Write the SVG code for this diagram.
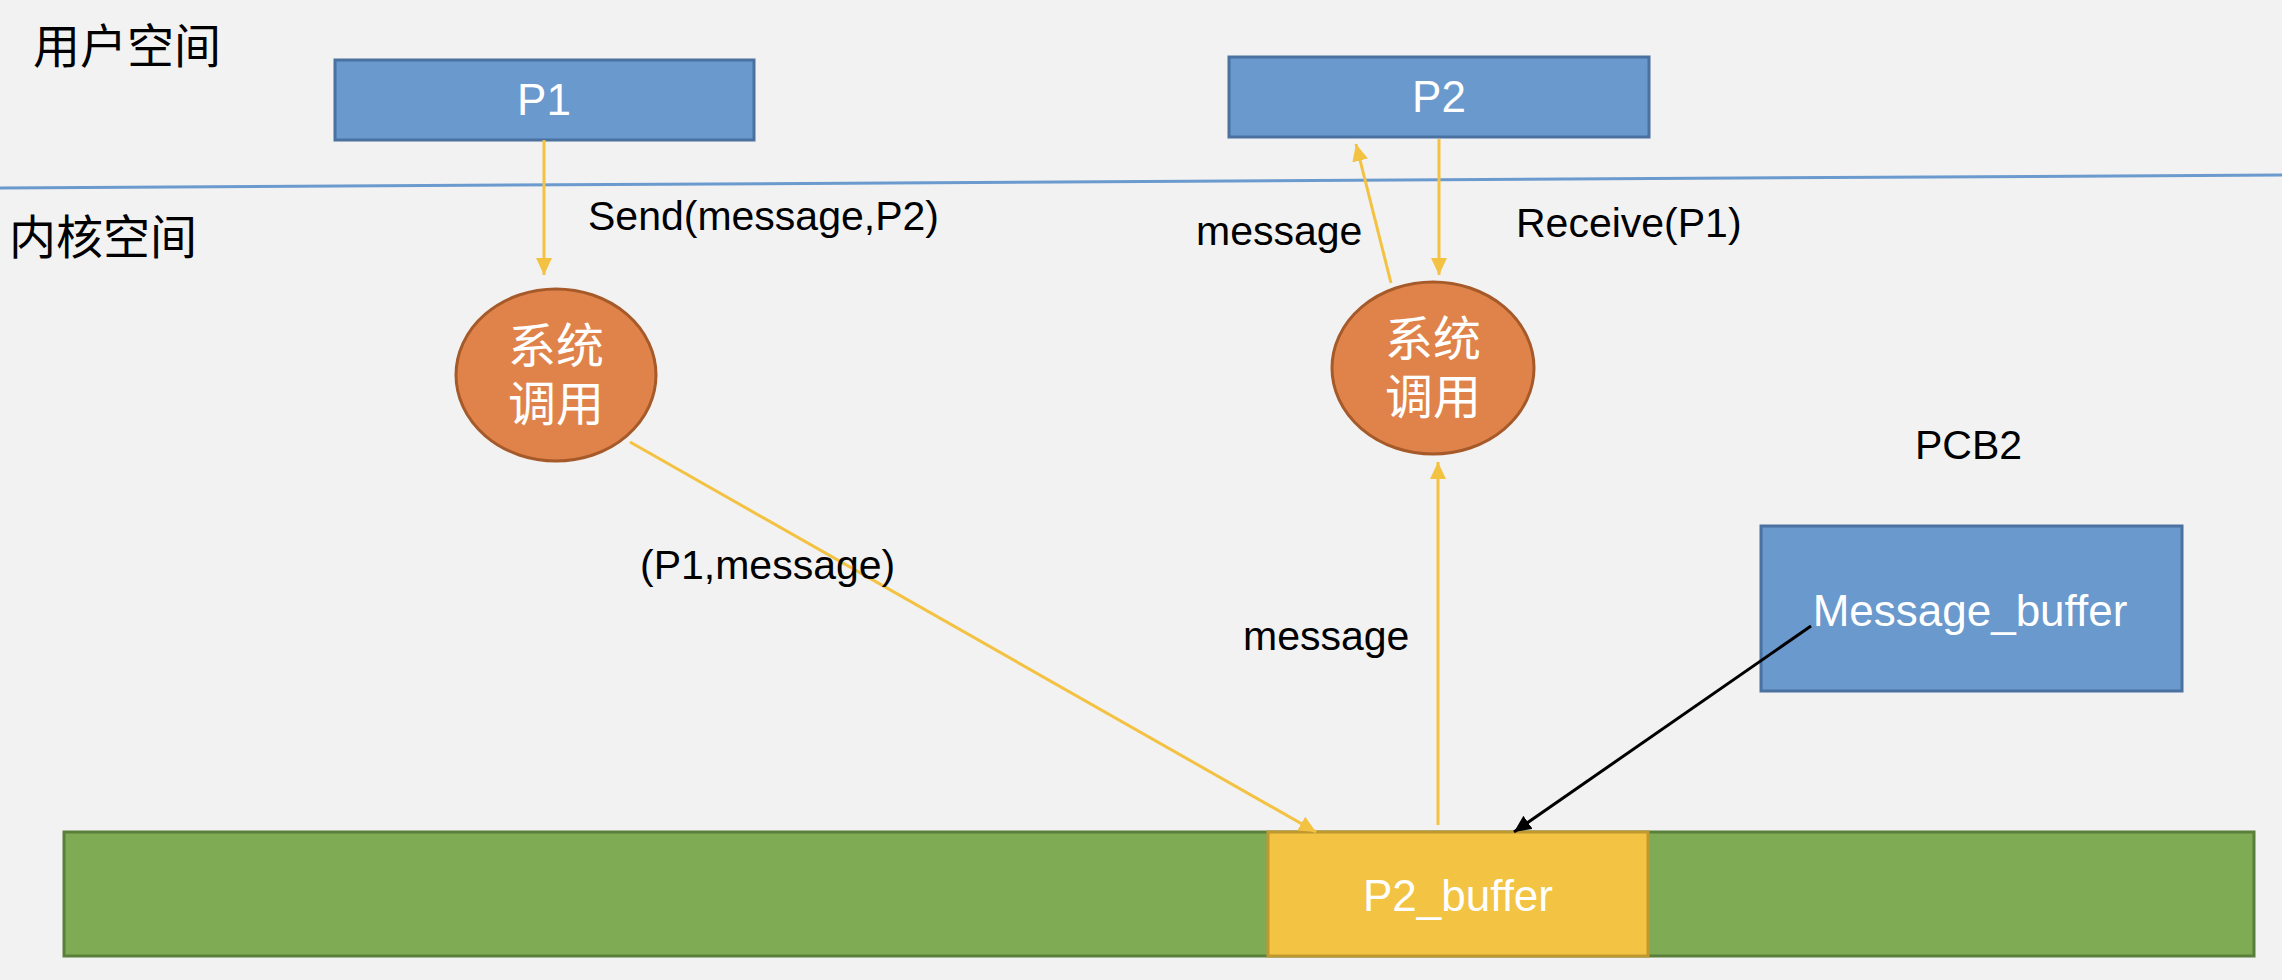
<svg xmlns="http://www.w3.org/2000/svg" width="2282" height="980" viewBox="0 0 2282 980">
<style>
.lbl{font-family:"Liberation Sans","Noto Sans",sans-serif;font-size:41px;fill:#000}
.wt{font-family:"Liberation Sans","Noto Sans",sans-serif;font-size:44px;fill:#fff;text-anchor:middle}
.cjk{font-family:"Liberation Sans","Noto Sans CJK SC",sans-serif;font-size:47px;fill:#000}
.cjkw{font-family:"Liberation Sans","Noto Sans CJK SC",sans-serif;font-size:48px;fill:#fff;text-anchor:middle}
.blue{fill:#6999CD;stroke:#4A71A0;stroke-width:3}
.orange{fill:#E0834A;stroke:#A65A2A;stroke-width:3}
.ya{stroke:#F4C242;stroke-width:3;fill:none}
.ba{stroke:#000;stroke-width:3;fill:none}
</style>
<defs>
<marker id="ahY" markerUnits="userSpaceOnUse" markerWidth="18" markerHeight="16" refX="17" refY="8" orient="auto"><path d="M0,0 L17,8 L0,16 Z" fill="#F4C242"/></marker>
<marker id="ahB" markerUnits="userSpaceOnUse" markerWidth="18" markerHeight="16" refX="17" refY="8" orient="auto"><path d="M0,0 L17,8 L0,16 Z" fill="#000"/></marker>
</defs>
<rect x="0" y="0" width="2282" height="980" fill="#F2F2F2"/>
<line x1="0" y1="188" x2="2282" y2="175" stroke="#6A9ACE" stroke-width="3"/>
<text class="cjk" x="33" y="63">用户空间</text>
<text class="cjk" x="9" y="254">内核空间</text>

<g id="P1"><rect class="blue" x="335" y="60" width="419" height="80"/><text class="wt" x="544" y="115">P1</text></g>
<g id="P2"><rect class="blue" x="1229" y="57" width="420" height="80"/><text class="wt" x="1439" y="112">P2</text></g>
<g id="syscall1"><ellipse class="orange" cx="556" cy="375" rx="100" ry="86"/><text class="cjkw" x="556" y="363">系统</text><text class="cjkw" x="556" y="421">调用</text></g>
<g id="syscall2"><ellipse class="orange" cx="1433" cy="368" rx="101" ry="86"/><text class="cjkw" x="1433" y="356">系统</text><text class="cjkw" x="1433" y="414">调用</text></g>
<g id="PCB2"><text class="lbl" x="1915" y="459">PCB2</text></g>
<g id="MessageBuffer"><rect class="blue" x="1761" y="526" width="421" height="165"/><text class="wt" x="1970" y="626">Message_buffer</text></g>
<g id="memory"><rect x="64" y="832" width="2190" height="124" fill="#7FAB55" stroke="#5A7F3A" stroke-width="3"/></g>
<g id="P2buffer"><rect x="1268" y="832" width="380" height="124" fill="#F3C343" stroke="#C09830" stroke-width="3"/><text class="wt" x="1458" y="911">P2_buffer</text></g>

<g id="connectors">
<line class="ya" x1="544" y1="140" x2="544" y2="275" marker-end="url(#ahY)"/>
<line class="ya" x1="630" y1="442" x2="1316" y2="832" marker-end="url(#ahY)"/>
<line class="ya" x1="1439" y1="139" x2="1439" y2="275" marker-end="url(#ahY)"/>
<line class="ya" x1="1391" y1="283" x2="1356" y2="144" marker-end="url(#ahY)"/>
<line class="ya" x1="1438" y1="825" x2="1438" y2="462" marker-end="url(#ahY)"/>
<line class="ba" x1="1811" y1="626" x2="1514" y2="832" marker-end="url(#ahB)"/>
</g>
<text class="lbl" x="588" y="230">Send(message,P2)</text>
<text class="lbl" x="1196" y="245">message</text>
<text class="lbl" x="1516" y="237">Receive(P1)</text>
<text class="lbl" x="640" y="579">(P1,message)</text>
<text class="lbl" x="1243" y="650">message</text>
</svg>
